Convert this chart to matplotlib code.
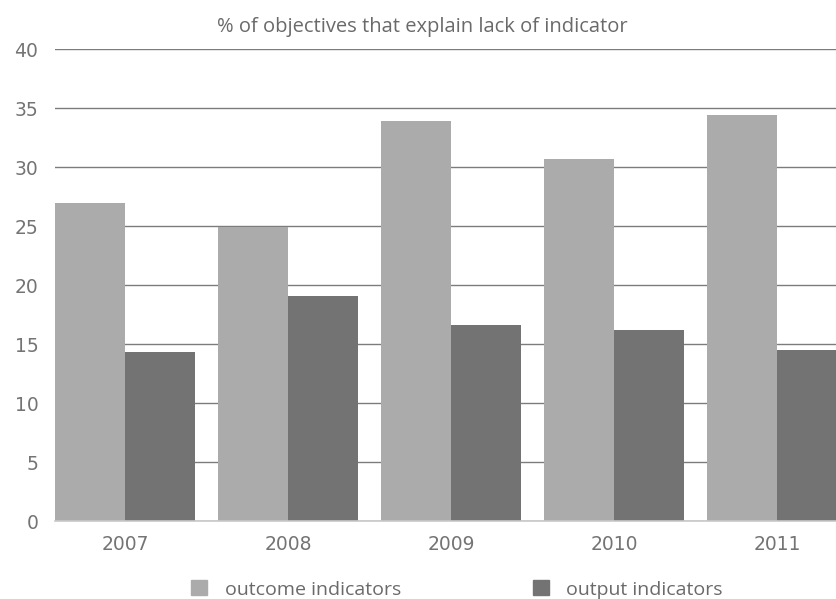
import matplotlib
matplotlib.use("Agg")
import matplotlib.pyplot as plt
import numpy as np
from matplotlib.patches import Patch

# values
years = ["2007", "2008", "2009", "2010", "2011"]
outcome = [27.0, 24.9, 33.9, 30.7, 34.4]
output = [14.3, 19.1, 16.6, 16.2, 14.5]
yticks = [0, 5, 10, 15, 20, 25, 30, 35, 40]

OUTCOME_COLOR = "#ababab"
OUTPUT_COLOR = "#737374"
TEXT_COLOR = "#6a6a6a"

plt.rcParams["font.family"] = ["Open Sans", "DejaVu Sans"]

fig = plt.figure(figsize=(8.37, 5.99), dpi=100)
ax = fig.add_axes([0.0657, 0.130, 0.9343, 0.788])

x = np.arange(len(years))
width = 0.43
ax.bar(x - width / 2, outcome, width, color=OUTCOME_COLOR, zorder=2)
ax.bar(x + width / 2, output, width, color=OUTPUT_COLOR, zorder=2)

ax.set_xlim(-width, len(years) - 1 + 0.368)
ax.set_ylim(0, 40)
ax.set_yticks(yticks)
ax.set_xticks(x)
ax.set_xticklabels(years)
ax.yaxis.grid(True, color="#7c7c7c", linewidth=1.0, zorder=0)
ax.set_axisbelow(True)

for side in ["top", "right", "left"]:
    ax.spines[side].set_visible(False)
ax.spines["bottom"].set_color("#c8c8c8")
ax.spines["bottom"].set_linewidth(1.2)
ax.tick_params(axis="both", length=0, labelsize=13.5, labelcolor="#747474")
ax.tick_params(axis="y", pad=12)
ax.tick_params(axis="x", pad=10)
for lab in ax.get_xticklabels() + ax.get_yticklabels():
    lab.set_family("DejaVu Sans")

fig.text(0.505, 0.955, "% of objectives that explain lack of indicator",
         ha="center", va="center", fontsize=14.5, color=TEXT_COLOR)

handles = [Patch(color=OUTCOME_COLOR, label="outcome indicators"),
           Patch(color=OUTPUT_COLOR, label="output indicators")]
leg = fig.legend(handles=handles, loc="center", bbox_to_anchor=(0.546, 0.016),
                 ncol=2, frameon=False, fontsize=14, handlelength=0.82,
                 handleheight=0.82, handletextpad=0.88, columnspacing=6.8)
for t in leg.get_texts():
    t.set_color(TEXT_COLOR)

fig.savefig("out.png", dpi=100)
